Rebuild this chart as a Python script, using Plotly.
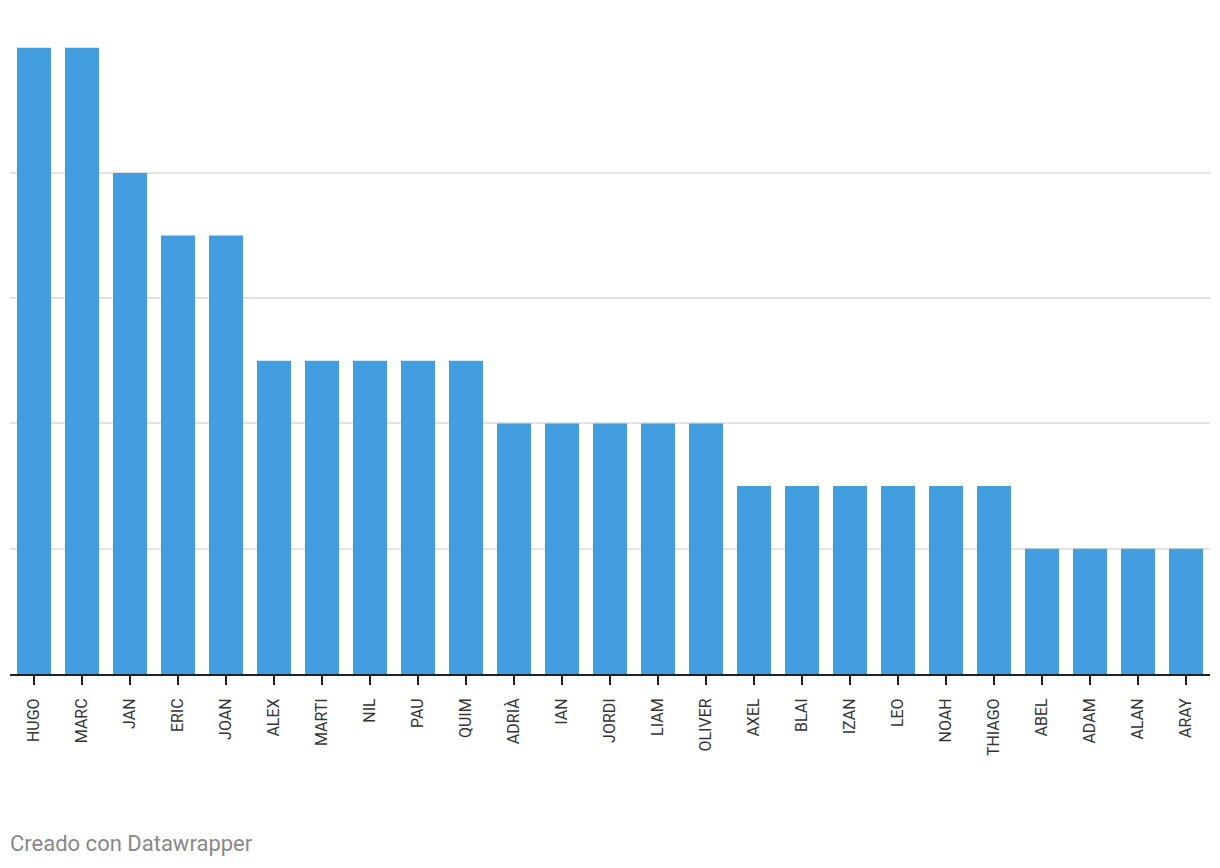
import plotly.graph_objects as go

names = ["HUGO", "MARC", "JAN", "ERIC", "JOAN", "ALEX", "MARTI", "NIL", "PAU", "QUIM",
         "ADRIÀ", "IAN", "JORDI", "LIAM", "OLIVER", "AXEL", "BLAI", "IZAN", "LEO", "NOAH",
         "THIAGO", "ABEL", "ADAM", "ALAN", "ARAY"]
values = [5, 5, 4, 3.5, 3.5, 2.5, 2.5, 2.5, 2.5, 2.5,
          2, 2, 2, 2, 2, 1.5, 1.5, 1.5, 1.5, 1.5,
          1.5, 1, 1, 1, 1]

fig = go.Figure(go.Bar(
    x=names, y=values,
    marker=dict(color="#429ede", line=dict(width=0)),
    hoverinfo="x+y",
))

# page body has 8px default margin; compensate
W, H = 1212, 860
L, R, T, B = 2, 10, 39, 194
PH = H - T - B
fig.update_layout(
    width=W, height=H,
    margin=dict(l=L, r=R, t=T, b=B, autoexpand=False),
    paper_bgcolor="white", plot_bgcolor="white",
    bargap=0.29,
    showlegend=False,
    font=dict(family="Roboto", size=16, color="#333333"),
    xaxis=dict(
        tickangle=-90,
        ticks="outside", ticklen=9, tickwidth=2, tickcolor="#222222",
        showline=True, linecolor="#222222", linewidth=2,
        showgrid=False,
        tickfont=dict(family="Roboto", size=16, color="#333333"),
        ticklabelstandoff=7,
    ),
    yaxis=dict(
        range=[0, 5.005],
        tickvals=[1, 2, 3, 4, 5],
        showticklabels=False,
        showgrid=True, gridcolor="#e3e3e3", gridwidth=2,
        zeroline=False, showline=False,
    ),
    annotations=[dict(
        text="Creado con Datawrapper",
        x=(8 - 8 - L) / (W - L - R),
        y=-(843 - 8 - T - PH) / PH,
        xref="paper", yref="paper",
        showarrow=False, font=dict(family="Roboto", size=22, color="#888888"),
        xanchor="left", yanchor="middle",
    )],
)

fig.write_html("out.html")
